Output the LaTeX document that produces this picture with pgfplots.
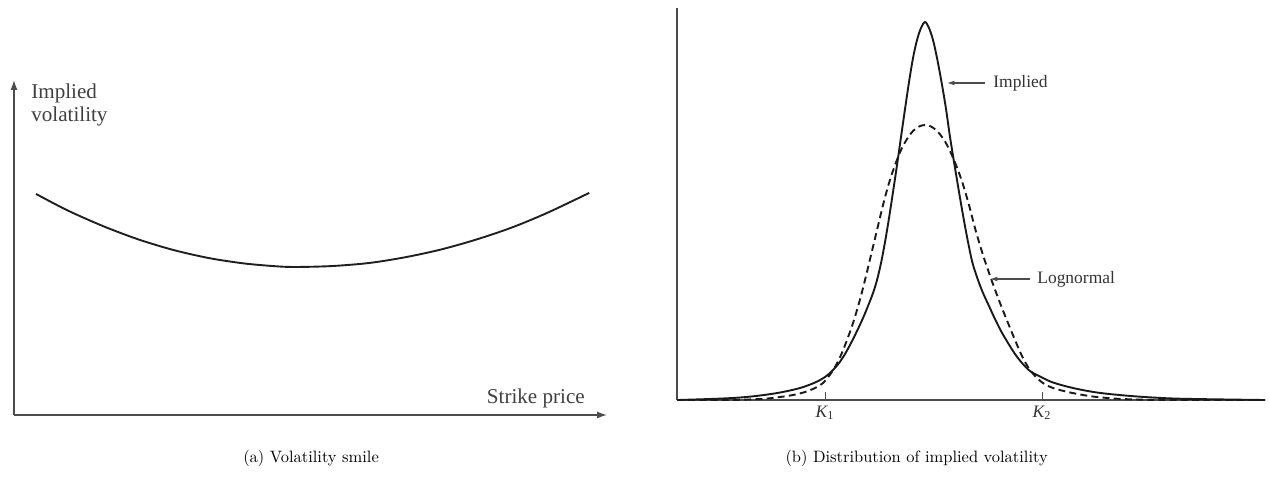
\documentclass[border=0pt]{standalone}
\usepackage{pgfplots}
\pgfplotsset{compat=1.18}
\usepackage{fontspec}
\newfontfamily\tnr{Liberation Serif}
\usetikzlibrary{arrows.meta}

\begin{document}
\begin{tikzpicture}
\useasboundingbox (0,0) rectangle (770.28pt,-290.15pt);
% ---------------- (a) Volatility smile ----------------
\begin{axis}[at={(8.50pt,-251.9pt)}, anchor=south west, scale only axis,
  width=359.95pt, height=203.35pt,
  xmin=0, xmax=1, ymin=0, ymax=1,
  axis lines=left,
  axis line style={black!70, line width=0.8pt, -{Latex[length=6pt,width=4.2pt]}},
  xtick=\empty, ytick=\empty, clip=false]
\addplot[black!88, line width=1.15pt, smooth] coordinates {
  (0.037,0.660) (0.090,0.611) (0.150,0.564) (0.210,0.524) (0.270,0.492)
  (0.330,0.468) (0.390,0.452) (0.450,0.443) (0.486,0.442) (0.540,0.445)
  (0.600,0.454) (0.660,0.471) (0.720,0.494) (0.780,0.524) (0.840,0.560)
  (0.900,0.604) (0.970,0.663)
};
\node[anchor=north west, align=left, inner sep=0pt,
  font=\tnr\fontsize{12.8}{13.4}\selectfont, text=black!75]
  at (axis cs:0.0287,0.988) {Implied\\volatility};
\node[anchor=base east, inner sep=0pt,
  font=\tnr\fontsize{12.8}{13.4}\selectfont, text=black!75]
  at (axis cs:0.963,0.0358) {Strike price};
\end{axis}
% ---------------- (b) Distribution ----------------
\begin{axis}[at={(410.94pt,-242.8pt)}, anchor=south west, scale only axis,
  width=356.92pt, height=237.94pt,
  xmin=0, xmax=588, ymin=0, ymax=392,
  axis lines=left,
  axis line style={black!70, line width=0.8pt, -},
  xtick={148,365},
  xticklabels={{\itshape K}\textsubscript{1},{\itshape K}\textsubscript{2}},
  ytick=\empty, tick align=inside, major tick length=4.9pt,
  tick style={black!70, line width=0.6pt},
  xticklabel style={font=\tnr\fontsize{10.6}{12}\selectfont, text=black!80},
  clip=false]
% Implied (solid)
\addplot[black!90, line width=1.15pt, smooth, tension=0.55] coordinates {
  (0,0) (38,1.2) (63,2.5) (83,4.5) (103,7.5) (123,12) (138,17.5) (148,23)
  (155,29) (162,37) (168,46) (174,57) (180,69) (186,82) (191,94) (196,107)
  (200,120) (204,137) (208,158) (212,182) (216,208) (220,235) (224,263)
  (228,291) (232,318) (236,342) (240,360) (244,372) (248,378)
  (252,372) (256,360) (260,342) (264.5,318) (269,291) (273,263) (277.5,235)
  (282,208) (286.5,182) (291,158) (295.5,137) (301,120) (306,107) (312,94)
  (317.5,82) (324,69) (331,57) (338,46) (345,37) (353,29) (364,23)
  (376,17.5) (396,12) (420,7.5) (448,4.5) (476,2.5) (508,1.2) (588,0)
};
% Lognormal (dashed)
\addplot[black!90, line width=1.15pt, smooth, tension=0.55,
  dash pattern=on 4.2pt off 2.6pt] coordinates {
  (0,0) (48,0) (68,0.4) (88,1.3) (103,3) (116,5) (128,8) (138,12) (146,17)
  (152,24) (158,33) (164,45) (170,60) (176,77) (182,97) (188,120) (194,145)
  (200,170) (206,195) (212,217) (218,235) (224,250) (230,261) (236,269)
  (242,273.5) (248,275)
  (254,273.5) (260,269) (266.5,261) (272.5,250) (279,235) (285.5,217)
  (292,195) (298.5,170) (306,145) (314.5,120) (323,97) (331,77) (338,60)
  (344.5,45) (351,33) (358,24) (366,17) (376,12) (391,8) (406,5) (420,3)
  (440,1.3) (463,0.4) (488,0) (588,0)
};
\draw[black!70, line width=0.7pt, -{Latex[length=4.5pt,width=3pt]}]
  (axis cs:308,317) -- (axis cs:270,317);
\node[anchor=west, inner sep=0pt, font=\tnr\fontsize{10.6}{12}\selectfont, text=black!80]
  at (axis cs:316,317) {Implied};
\draw[black!70, line width=0.7pt, -{Latex[length=4.5pt,width=3pt]}]
  (axis cs:353,121) -- (axis cs:313,121);
\node[anchor=west, inner sep=0pt, font=\tnr\fontsize{10.6}{12}\selectfont, text=black!80]
  at (axis cs:360,121) {Lognormal};
\end{axis}
% ---------------- captions ----------------
\node[anchor=base, inner sep=0pt, font=\fontsize{10}{12}\selectfont]
  at (188.8pt,-281.0pt) {(a) Volatility smile};
\node[anchor=base, inner sep=0pt, font=\fontsize{10}{12}\selectfont]
  at (556.4pt,-281.0pt) {(b) Distribution of implied volatility};
\end{tikzpicture}
\end{document}
